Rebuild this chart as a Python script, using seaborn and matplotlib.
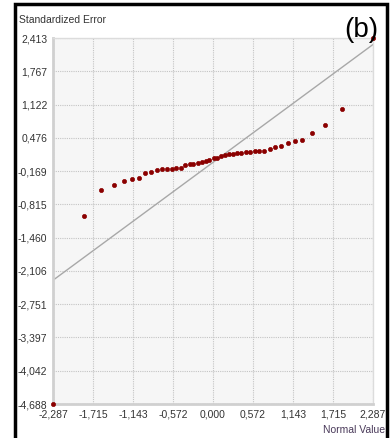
import matplotlib
matplotlib.use("Agg")
import matplotlib.pyplot as plt
import seaborn as sns
import pandas as pd
from matplotlib.patches import Rectangle

# normal quantiles (x) and standardized errors (y)
normal_value = [-2.287, -1.844, -1.601, -1.419, -1.276, -1.162, -1.062, -0.972, -0.886, -0.805,
                -0.729, -0.653, -0.586, -0.525, -0.462, -0.396, -0.333, -0.282, -0.219, -0.162,
                -0.104, -0.053, 0.010, 0.053, 0.110, 0.167, 0.229, 0.286, 0.339, 0.400,
                0.467, 0.529, 0.596, 0.662, 0.733, 0.815, 0.891, 0.972, 1.068, 1.168,
                1.276, 1.419, 1.601, 1.840, 2.287]
std_error = [-4.688, -1.035, -0.542, -0.445, -0.356, -0.317, -0.297, -0.200, -0.181, -0.148,
             -0.129, -0.129, -0.129, -0.103, -0.103, -0.051, -0.026, -0.026, -0.006, 0.013,
             0.027, 0.046, 0.091, 0.091, 0.124, 0.143, 0.157, 0.168, 0.182, 0.188,
             0.201, 0.207, 0.221, 0.221, 0.221, 0.265, 0.298, 0.318, 0.370, 0.409,
             0.434, 0.564, 0.719, 1.035, 2.413]

x_ticks = [-2.287, -1.715, -1.143, -0.572, 0.000, 0.572, 1.143, 1.715, 2.287]
y_ticks = [2.413, 1.767, 1.122, 0.476, -0.169, -0.815, -1.460, -2.106, -2.751, -3.397, -4.042, -4.688]

df = pd.DataFrame({"x": normal_value, "y": std_error})

sns.set_style("white")
plt.rcParams["font.family"] = ["Liberation Sans", "DejaVu Sans"]

fig = plt.figure(figsize=(3.9, 4.38), dpi=100)
ax = fig.add_axes([53 / 390, 1 - 404 / 438, 320 / 390, 366 / 438])
ax.set_facecolor("#f6f6f6")

# reference line y = x across the data range
ref = pd.DataFrame({"x": [min(normal_value), max(normal_value)]})
ref["y"] = ref["x"]
sns.lineplot(data=ref, x="x", y="y", ax=ax, color="#a8a8a8", linewidth=1.0, zorder=2)
sns.scatterplot(data=df, x="x", y="y", ax=ax, color="#8b0000", s=9, marker="o",
                edgecolor="#8b0000", linewidth=0.5, zorder=3, clip_on=False)

ax.set_xlim(x_ticks[0], x_ticks[-1])
ax.set_ylim(y_ticks[-1], y_ticks[0])
ax.set_xticks(x_ticks)
ax.set_yticks(y_ticks)
ax.set_xticklabels([f"{v:.3f}".replace(".", ",") for v in x_ticks])
ax.set_yticklabels([f"{v:.3f}".replace(".", ",") for v in y_ticks])
ax.tick_params(length=0, labelsize=7.5, labelcolor="#333333", pad=4)
ax.set_xlabel("")
ax.set_ylabel("")
ax.grid(True, color="#c4c4c4", linestyle=(0, (1, 1)), linewidth=0.8)

for side, s in ax.spines.items():
    s.set_visible(True)
    s.set_color("#dcdcdc")
    s.set_linewidth(1.0)
ax.spines["left"].set_linewidth(2.0)
ax.spines["bottom"].set_linewidth(2.0)
ax.spines["left"].set_color("#d0d0d0")
ax.spines["bottom"].set_color("#d0d0d0")

fig.text(19 / 390, 1 - 20 / 438, "Standardized Error", fontsize=7.5, color="#333333",
         ha="left", va="center")
fig.text(385 / 390, 1 - 430 / 438, "Normal Value", fontsize=7.5, color="#4a3a5a",
         ha="right", va="center")
fig.text(378 / 390, 1 - 30 / 438, "(b)", fontsize=20, color="black",
         ha="right", va="center")

# black frame of the screenshot
fig.patches.append(Rectangle((15 / 390, -0.01), 372 / 390, 1 - 4 / 438 + 0.01,
                             transform=fig.transFigure, fill=False,
                             edgecolor="black", linewidth=2.5))

fig.savefig("out.png", dpi=100)
